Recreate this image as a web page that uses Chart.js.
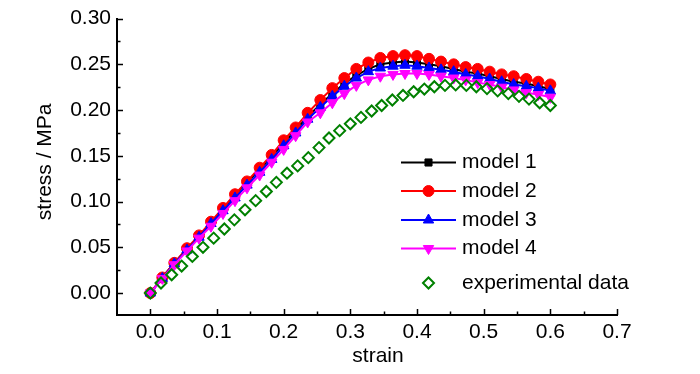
<!DOCTYPE html>
<html>
<head>
<meta charset="utf-8">
<script src="https://cdn.jsdelivr.net/npm/chart.js@4/dist/chart.umd.min.js"></script>
<style>
    html, body { margin: 0; padding: 0; background: #fff; }
</style>
</head>
<body>
<canvas id="stressStrain" width="700" height="374"></canvas>
<script>
    // strain values of the model curves and of the test
    var modelStrain = [0, 0.018, 0.036, 0.055, 0.073, 0.091, 0.109, 0.127, 0.145, 0.164, 0.182, 0.200,
        0.218, 0.236, 0.255, 0.273, 0.291, 0.309, 0.327, 0.345, 0.364, 0.382, 0.400, 0.418, 0.436,
        0.455, 0.473, 0.491, 0.509, 0.527, 0.545, 0.564, 0.582, 0.600];
    var expStrain = [0, 0.016, 0.032, 0.047, 0.063, 0.079, 0.095, 0.111, 0.126, 0.142, 0.158, 0.174,
        0.189, 0.205, 0.221, 0.237, 0.253, 0.268, 0.284, 0.300, 0.316, 0.332, 0.347, 0.363, 0.379,
        0.395, 0.411, 0.426, 0.442, 0.458, 0.474, 0.489, 0.505, 0.521, 0.537, 0.553, 0.568, 0.584, 0.600];

    // stress / MPa
    var model1 = [0, 0.017, 0.033, 0.048, 0.062, 0.077, 0.092, 0.107, 0.121, 0.135, 0.149, 0.164,
        0.178, 0.193, 0.206, 0.218, 0.229, 0.238, 0.245, 0.250, 0.252, 0.253, 0.252, 0.250, 0.248,
        0.245, 0.242, 0.240, 0.237, 0.234, 0.231, 0.229, 0.226, 0.223];
    var model2 = [0, 0.017, 0.033, 0.049, 0.063, 0.078, 0.093, 0.108, 0.122, 0.137, 0.151, 0.167,
        0.181, 0.197, 0.211, 0.224, 0.235, 0.245, 0.252, 0.257, 0.259, 0.260, 0.259, 0.256, 0.253,
        0.250, 0.247, 0.245, 0.242, 0.239, 0.237, 0.234, 0.231, 0.228];
    var model3 = [0, 0.016, 0.032, 0.047, 0.061, 0.076, 0.090, 0.104, 0.118, 0.132, 0.146, 0.161,
        0.175, 0.190, 0.203, 0.215, 0.226, 0.235, 0.242, 0.246, 0.248, 0.249, 0.248, 0.246, 0.244,
        0.242, 0.239, 0.237, 0.234, 0.231, 0.228, 0.226, 0.224, 0.221];
    var model4 = [0, 0.016, 0.031, 0.046, 0.060, 0.073, 0.087, 0.101, 0.115, 0.129, 0.143, 0.157,
        0.172, 0.187, 0.197, 0.208, 0.218, 0.227, 0.233, 0.237, 0.239, 0.240, 0.240, 0.239, 0.237,
        0.235, 0.233, 0.230, 0.228, 0.225, 0.222, 0.219, 0.217, 0.214];
    var experimental = [0, 0.011, 0.020, 0.0295, 0.040, 0.050, 0.060, 0.070, 0.080, 0.091, 0.101, 0.111,
        0.121, 0.131, 0.139, 0.148, 0.159, 0.1695, 0.1775, 0.185, 0.192, 0.199, 0.205, 0.211, 0.216,
        0.220, 0.223, 0.2255, 0.227, 0.2275, 0.227, 0.2255, 0.2235, 0.221, 0.218, 0.215, 0.212, 0.208, 0.205];

    var seriesNames = ["model 1", "model 2", "model 3", "model 4", "experimental data"];
    var xTitle = "strain";
    var yTitle = "stress / MPa";

    // axis ticks
    var xTicks = [0, 0.1, 0.2, 0.3, 0.4, 0.5, 0.6, 0.7];
    var xMinor = [0.05, 0.15, 0.25, 0.35, 0.45, 0.55, 0.65];
    var yTicks = [0, 0.05, 0.10, 0.15, 0.20, 0.25, 0.30];
    var yMinor = [0.025, 0.075, 0.125, 0.175, 0.225, 0.275];

    var FONT = '"Liberation Sans", Arial, sans-serif';
    var FSIZE = 21;

    function pts(xs, ys) {
        return ys.map(function (v, i) { return { x: xs[i], y: v }; });
    }

    // inward tick marks on both axes
    var tickMarks = {
        id: 'tickMarks',
        afterDraw: function (chart) {
            var ctx = chart.ctx, xs = chart.scales.x, ys = chart.scales.y, a = chart.chartArea;
            ctx.save();
            ctx.strokeStyle = '#000';
            ctx.lineWidth = 1.5;
            ctx.beginPath();
            xTicks.forEach(function (v) {
                var p = Math.round(xs.getPixelForValue(v)) + 0.5;
                ctx.moveTo(p, a.bottom); ctx.lineTo(p, a.bottom - 6);
            });
            xMinor.forEach(function (v) {
                var p = Math.round(xs.getPixelForValue(v)) + 0.5;
                ctx.moveTo(p, a.bottom); ctx.lineTo(p, a.bottom - 3.5);
            });
            yTicks.forEach(function (v) {
                var p = Math.round(ys.getPixelForValue(v)) + 0.5;
                ctx.moveTo(a.left, p); ctx.lineTo(a.left + 6, p);
            });
            yMinor.forEach(function (v) {
                var p = Math.round(ys.getPixelForValue(v)) + 0.5;
                ctx.moveTo(a.left, p); ctx.lineTo(a.left + 3.5, p);
            });
            ctx.stroke();

            // axis titles, placed a bit off-centre like the original
            ctx.fillStyle = '#000';
            ctx.font = FSIZE + 'px ' + FONT;
            ctx.textAlign = 'center';
            ctx.textBaseline = 'middle';
            ctx.fillText(xTitle, (a.left + a.right) / 2 + 11, 356);
            ctx.translate(45, (a.top + a.bottom) / 2 - 5);
            ctx.rotate(-Math.PI / 2);
            ctx.fillText(yTitle, 0, 0);
            ctx.restore();
        }
    };

    // legend inside the plot, line + symbol like the original
    var insideLegend = {
        id: 'insideLegend',
        afterDraw: function (chart) {
            var ctx = chart.ctx;
            var rows = [162.5, 191, 220, 248.5, 283];
            ctx.save();
            chart.data.datasets.forEach(function (ds, i) {
                var y = rows[i];
                if (ds.showLine !== false) {
                    ctx.strokeStyle = ds.borderColor;
                    ctx.lineWidth = ds.borderWidth;
                    ctx.beginPath();
                    ctx.moveTo(401, y); ctx.lineTo(456, y);
                    ctx.stroke();
                }
                ctx.fillStyle = ds.pointBackgroundColor;
                ctx.strokeStyle = ds.pointBorderColor;
                ctx.lineWidth = ds.pointBorderWidth;
                Chart.helpers.drawPoint(ctx, {
                    pointStyle: ds.pointStyle,
                    rotation: ds.pointRotation || 0,
                    radius: ds.pointRadius,
                    borderWidth: ds.pointBorderWidth
                }, 428.5, y);
                ctx.fillStyle = '#000';
                ctx.font = FSIZE + 'px ' + FONT;
                ctx.textAlign = 'left';
                ctx.textBaseline = 'middle';
                ctx.fillText(ds.label, 462, y);
            });
            ctx.restore();
        }
    };

    var ctx = document.getElementById('stressStrain').getContext('2d');
    var chart = new Chart(ctx, {
        type: 'line',
        data: {
            datasets: [{
                label: seriesNames[0],
                data: pts(modelStrain, model1),
                borderColor: '#000000',
                backgroundColor: '#000000',
                borderWidth: 2,
                pointStyle: 'rect',
                pointRadius: 5,
                pointBackgroundColor: '#000000',
                pointBorderColor: '#000000',
                pointBorderWidth: 1,
                order: 4
            }, {
                label: seriesNames[1],
                data: pts(modelStrain, model2),
                borderColor: '#ff0000',
                backgroundColor: '#ff0000',
                borderWidth: 2,
                pointStyle: 'circle',
                pointRadius: 5.5,
                pointBackgroundColor: '#ff0000',
                pointBorderColor: '#ff0000',
                pointBorderWidth: 1,
                order: 3
            }, {
                label: seriesNames[2],
                data: pts(modelStrain, model3),
                borderColor: '#0000ff',
                backgroundColor: '#0000ff',
                borderWidth: 2,
                pointStyle: 'triangle',
                pointRadius: 6,
                pointBackgroundColor: '#0000ff',
                pointBorderColor: '#0000ff',
                pointBorderWidth: 1,
                order: 2
            }, {
                label: seriesNames[3],
                data: pts(modelStrain, model4),
                borderColor: '#ff00ff',
                backgroundColor: '#ff00ff',
                borderWidth: 2,
                pointStyle: 'triangle',
                pointRotation: 180,
                pointRadius: 6,
                pointBackgroundColor: '#ff00ff',
                pointBorderColor: '#ff00ff',
                pointBorderWidth: 1,
                order: 1
            }, {
                label: seriesNames[4],
                data: pts(expStrain, experimental),
                showLine: false,
                borderColor: '#008000',
                backgroundColor: 'rgba(0,0,0,0)',
                borderWidth: 2,
                pointStyle: 'rectRot',
                pointRadius: 5.5,
                pointBackgroundColor: 'rgba(0,0,0,0)',
                pointBorderColor: '#008000',
                pointBorderWidth: 2,
                order: 0
            }]
        },
        options: {
            responsive: false,
            animation: false,
            devicePixelRatio: 1,
            layout: { padding: { left: 0, right: 83, top: 16, bottom: 0 } },
            plugins: {
                legend: { display: false },
                tooltip: { enabled: false }
            },
            elements: { line: { tension: 0 } },
            scales: {
                x: {
                    type: 'linear',
                    min: -0.05,
                    max: 0.7,
                    afterBuildTicks: function (axis) {
                        axis.ticks = xTicks.map(function (v) { return { value: v }; });
                    },
                    afterFit: function (axis) { axis.height = 59; },
                    grid: { display: false, drawTicks: false },
                    border: { display: true, color: '#000', width: 2 },
                    ticks: {
                        color: '#000',
                        padding: 5,
                        maxRotation: 0,
                        font: { family: FONT, size: FSIZE },
                        callback: function (v) { return v.toFixed(1); }
                    }
                },
                y: {
                    type: 'linear',
                    min: -0.024,
                    max: 0.30,
                    afterBuildTicks: function (axis) {
                        axis.ticks = yTicks.map(function (v) { return { value: v }; });
                    },
                    afterFit: function (axis) { axis.width = 117; },
                    grid: { display: false, drawTicks: false },
                    border: { display: true, color: '#000', width: 2 },
                    ticks: {
                        color: '#000',
                        padding: 6,
                        font: { family: FONT, size: FSIZE },
                        callback: function (v) { return v.toFixed(2); }
                    }
                }
            }
        },
        plugins: [tickMarks, insideLegend]
    });
</script>
</body>
</html>
